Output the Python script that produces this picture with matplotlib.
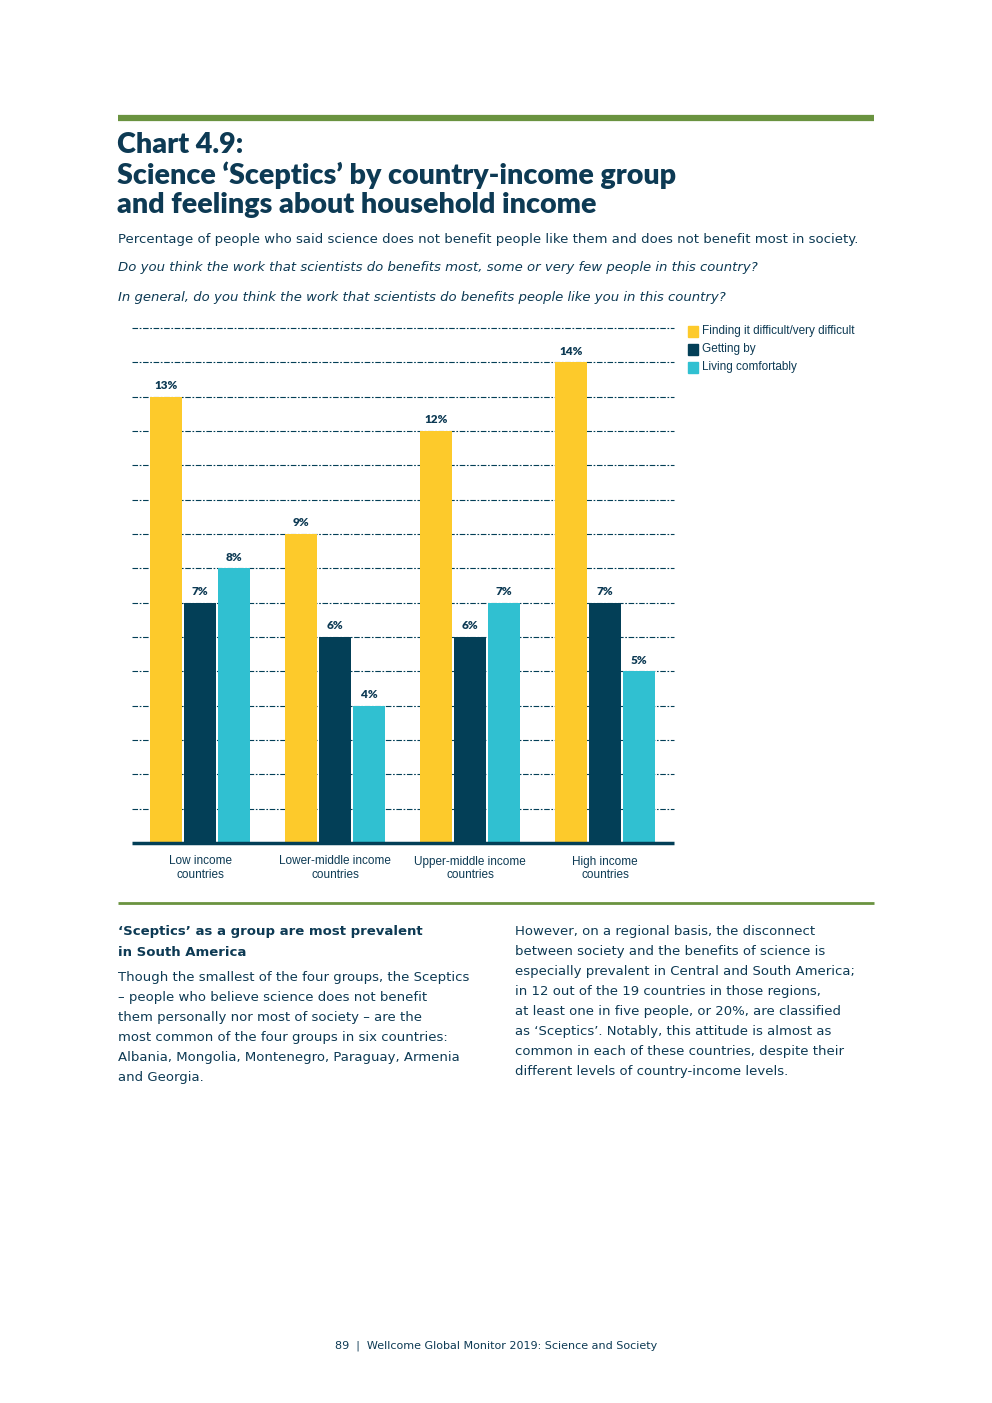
import matplotlib.pyplot as plt
import numpy as np

groups = ['Low income\ncountries', 'Lower-middle income\ncountries',
          'Upper-middle income\ncountries', 'High income\ncountries']
series = ['Finding it difficult/very difficult', 'Getting by', 'Living comfortably']
difficult = [13, 9, 12, 14]
getting_by = [7, 6, 6, 7]
comfortable = [8, 4, 7, 5]

YELLOW = '#FDCA2B'
NAVY = '#033F57'
CYAN = '#30C0D1'
GREEN = '#6A9340'
TEXT = '#0D3A54'
W, H = 992, 1403


def fx(px):
    return px / W


def fy(py):
    return 1 - py / H


fig = plt.figure(figsize=(9.92, 14.03), dpi=100)

# green rules
fig.add_artist(plt.Line2D([fx(118), fx(874)], [fy(118), fy(118)], color=GREEN, lw=4.5,
                          solid_capstyle='butt'))
fig.add_artist(plt.Line2D([fx(118), fx(874)], [fy(903), fy(903)], color=GREEN, lw=2,
                          solid_capstyle='butt'))

# title block
title_font = dict(family='Lato', weight='heavy', color=TEXT, fontsize=20.6)
fig.text(fx(117), fy(145), 'Chart 4.9:', va='center', **title_font)
fig.text(fx(117), fy(175), 'Science \u2018Sceptics\u2019 by country-income group', va='center', **title_font)
fig.text(fx(117), fy(205), 'and feelings about household income', va='center', **title_font)

sub_font = dict(family='DejaVu Sans', color=TEXT, fontsize=9.5)
fig.text(fx(118), fy(239), 'Percentage of people who said science does not benefit people like them and does not benefit most in society.',
         va='center', **sub_font)
fig.text(fx(118), fy(268), 'Do you think the work that scientists do benefits most, some or very few people in this country?',
         va='center', style='italic', **sub_font)
fig.text(fx(118), fy(298), 'In general, do you think the work that scientists do benefits people like you in this country?',
         va='center', style='italic', **sub_font)

# chart
ax = fig.add_axes([fx(132), fy(843), fx(674) - fx(132), fy(328) - fy(843)])
x = np.arange(len(groups))
bw = 0.237
off = 0.252
ax.set_xlim(-0.504, 3.511)
ax.set_ylim(0, 15)

for v in range(1, 16):
    ax.axhline(v, color=NAVY, lw=0.8, ls=(0, (5, 1.5, 1.5, 1.5)), zorder=1, clip_on=False)

colors = [YELLOW, NAVY, CYAN]
for i, (vals, c) in enumerate(zip([difficult, getting_by, comfortable], colors)):
    bars = ax.bar(x + (i - 1) * off, vals, bw, color=c, zorder=2, label=series[i])
    for b, v in zip(bars, vals):
        ax.annotate(f'{v}%', (b.get_x() + b.get_width() / 2, v), xytext=(0, 4),
                    textcoords='offset points', ha='center', va='bottom',
                    fontsize=8.5, fontweight='heavy', family='Lato', color=TEXT)

ax.axhline(0, color=NAVY, lw=2.5, zorder=3, clip_on=False, solid_capstyle='butt')
for s in ax.spines.values():
    s.set_visible(False)
ax.set_yticks([])
ax.set_xticks(x)
ax.set_xticklabels(groups, fontsize=8.5, family='Liberation Sans', color=TEXT, linespacing=1.2)
ax.tick_params(axis='x', length=0, pad=9)

# legend
for i, (lab, c) in enumerate(zip(series, colors)):
    yy = 331 + i * 18
    fig.add_artist(plt.Rectangle((fx(688), fy(yy + 5.5)), fx(10), 11 / H, color=c))
    fig.text(fx(702), fy(yy), lab, va='center', fontsize=8.5, family='Liberation Sans', color=TEXT)

# body text
body = dict(family='DejaVu Sans', color=TEXT, fontsize=9.5, va='center')
left_lines = [
    'Though the smallest of the four groups, the Sceptics',
    '\u2013 people who believe science does not benefit',
    'them personally nor most of society \u2013 are the',
    'most common of the four groups in six countries:',
    'Albania, Mongolia, Montenegro, Paraguay, Armenia',
    'and Georgia.',
]
right_lines = [
    'However, on a regional basis, the disconnect',
    'between society and the benefits of science is',
    'especially prevalent in Central and South America;',
    'in 12 out of the 19 countries in those regions,',
    'at least one in five people, or 20%, are classified',
    'as \u2018Sceptics\u2019. Notably, this attitude is almost as',
    'common in each of these countries, despite their',
    'different levels of country-income levels.',
]
fig.text(fx(118), fy(932), '\u2018Sceptics\u2019 as a group are most prevalent', weight='bold', **body)
fig.text(fx(118), fy(952), 'in South America', weight='bold', **body)
for i, line in enumerate(left_lines):
    fig.text(fx(118), fy(977 + 20 * i), line, **body)
for i, line in enumerate(right_lines):
    fig.text(fx(515), fy(932 + 20 * i), line, **body)

# footer
fig.text(fx(496), fy(1346), '89  |  Wellcome Global Monitor 2019: Science and Society', ha='center', va='center',
         fontsize=8, family='DejaVu Sans', color=TEXT)

fig.savefig('out.png', dpi=100)
